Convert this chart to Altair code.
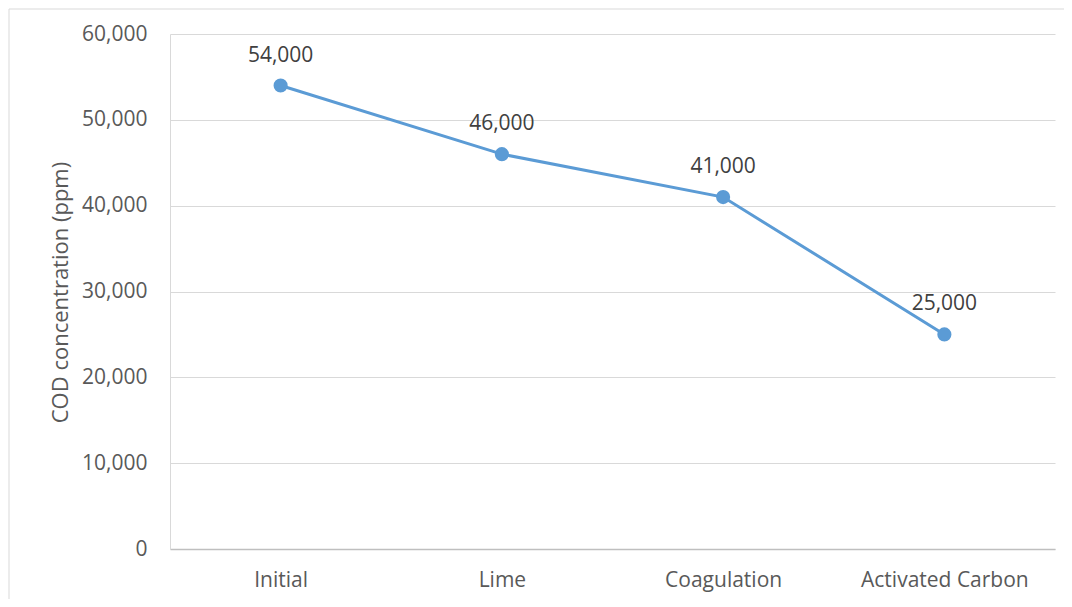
import altair as alt
import pandas as pd

stages = ["Initial", "Lime", "Coagulation", "Activated Carbon"]
cod_ppm = [54000, 46000, 41000, 25000]
y_ticks = [0, 10000, 20000, 30000, 40000, 50000, 60000]

df = pd.DataFrame({"stage": stages, "cod": cod_ppm})

W, H = 885, 515
FONT = "Open Sans"
TXT = "#595959"
FS = 21

x_enc = alt.X("stage:N", sort=stages,
              scale=alt.Scale(type="point", padding=0.5),
              axis=alt.Axis(title=None, labelFont=FONT, labelFontSize=FS, labelColor=TXT,
                            labelPadding=20, ticks=False, domainColor="#BFBFBF",
                            domainWidth=1.5, labelAngle=0, grid=False))
y_enc = alt.Y("cod:Q", scale=alt.Scale(domain=[0, 60000], nice=False),
              axis=alt.Axis(title="COD concentration (ppm)", values=y_ticks,
                            labelExpr="format(datum.value, ',')",
                            labelFont=FONT, labelFontSize=FS, labelColor=TXT,
                            labelPadding=23, ticks=False, domainColor="#D9D9D9",
                            gridColor="#D9D9D9", gridWidth=1,
                            titleFont=FONT, titleFontSize=22, titleColor=TXT, titleFontWeight="normal",
                            titleX=-110, titleY=258, titleAngle=-90, titleBaseline="middle",
                            titleAlign="center"))

base = alt.Chart(df)

line = base.mark_line(color="#5B9BD5", strokeWidth=3).encode(x=x_enc, y=y_enc)
pts = base.mark_point(filled=True, color="#5B9BD5", size=200, opacity=1).encode(x=x_enc, y=y_enc)
labels = base.mark_text(font=FONT, fontSize=FS, color="#404040", baseline="middle", dy=-30).encode(
    x=x_enc, y=y_enc, text=alt.Text("cod:Q", format=","))

border = alt.Chart(pd.DataFrame({"a": [0]})).mark_rect(fill=None, stroke="#D9D9D9", strokeWidth=1).encode(
    x=alt.value(-161), x2=alt.value(W + 30), y=alt.value(-25), y2=alt.value(H + 70))

chart = alt.layer(border, line, pts, labels).properties(
    width=W, height=H,
    autosize=alt.AutoSizeParams(type="none"),
    padding={"left": 162, "top": 26, "right": 9, "bottom": 50},
).configure_view(stroke=None)

chart.save("out.html", embed_options={"renderer": "svg", "actions": False})
